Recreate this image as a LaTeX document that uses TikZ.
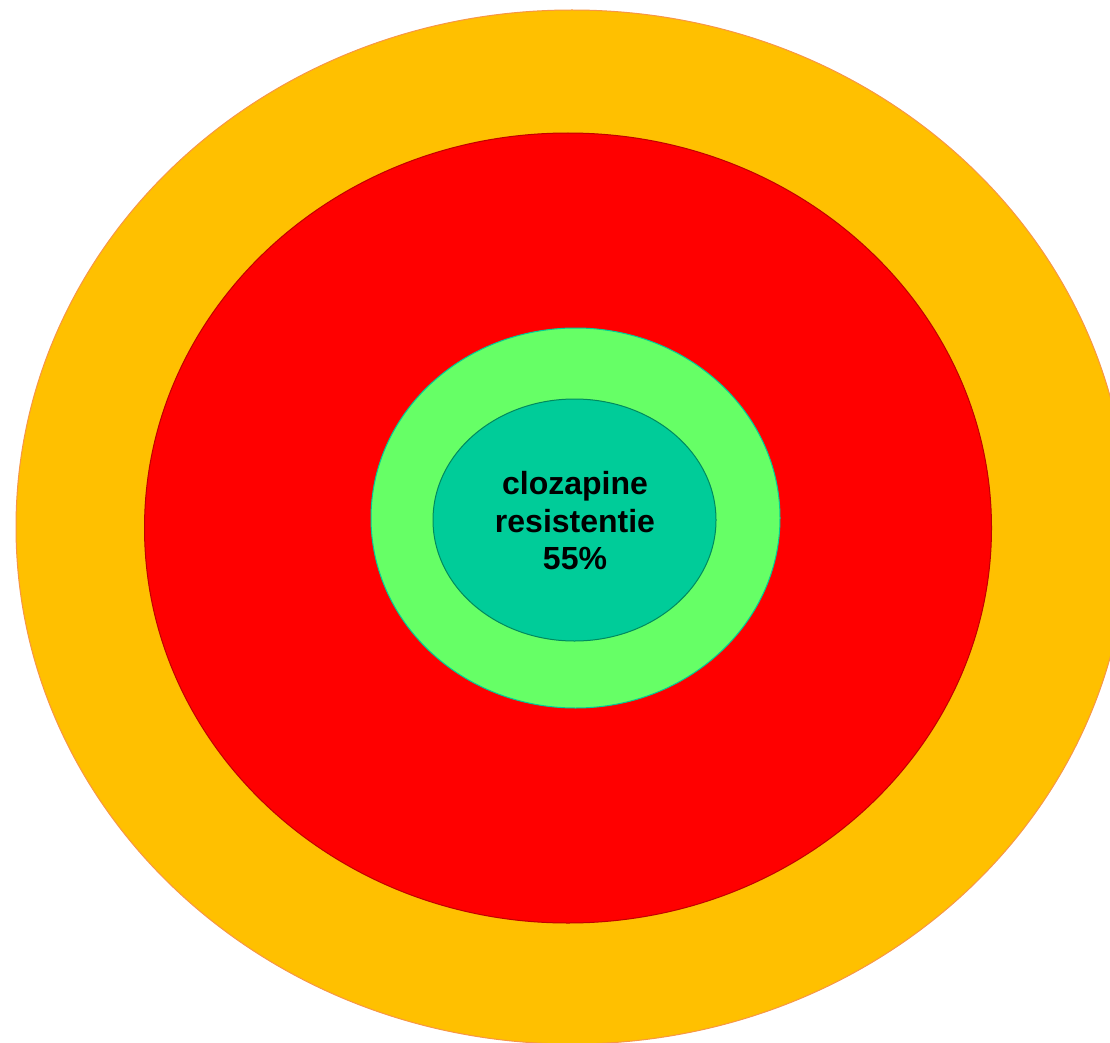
\documentclass[tikz,border=0pt]{standalone}
\usepackage{fontspec}
\setmainfont{Liberation Sans}
\definecolor{orangefill}{HTML}{FFC000}
\definecolor{orangeline}{HTML}{F79646}
\definecolor{redfill}{HTML}{FF0000}
\definecolor{redline}{HTML}{C00000}
\definecolor{greenfill}{HTML}{66FF66}
\definecolor{greenline}{HTML}{00CC99}
\definecolor{tealfill}{HTML}{00CC99}
\definecolor{tealline}{HTML}{008A5E}
\begin{document}
\begin{tikzpicture}[x=1pt,y=-1pt,
  ring/.style={line width=1pt}]
\useasboundingbox (0,0) rectangle (1110,1043);
\begin{scope}
\clip (0,0) rectangle (1110,1043);
\path[ring,fill=orangefill,draw=orangeline] (572,527) ellipse [x radius=556, y radius=517];
\end{scope}
\path[ring,fill=redfill,draw=redline] (568,528) ellipse [x radius=423.5, y radius=395];
\path[ring,fill=greenfill,draw=greenline] (575.5,518) ellipse [x radius=204.5, y radius=190];
\path[ring,fill=tealfill,draw=tealline] (574.5,520) ellipse [x radius=141.5, y radius=121];
\node[font=\bfseries\fontsize{32}{37.5}\selectfont,align=center,inner sep=0pt] (label) at (575,521) {clozapine\\resistentie\\55\%};
\end{tikzpicture}
\end{document}
